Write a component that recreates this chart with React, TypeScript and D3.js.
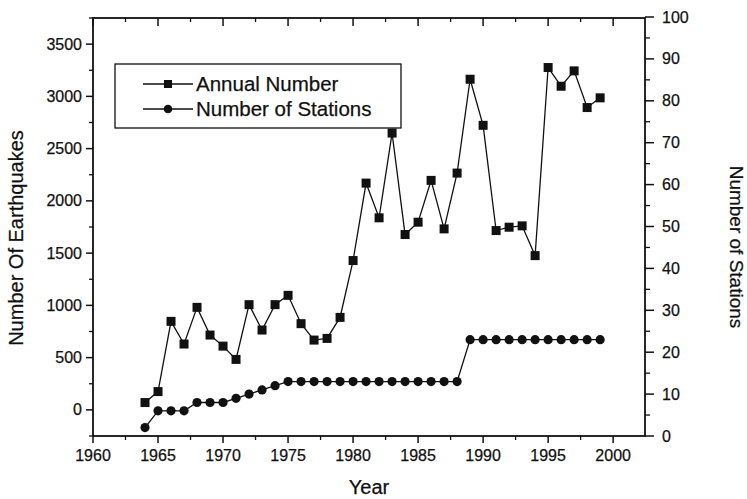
import React from 'react'
import * as d3 from 'd3'

const years = d3.range(1964, 2000)
const annualNumber = [
  70, 175, 847, 630, 981, 716, 610, 483, 1007, 764, 1007, 1096, 825, 668, 684, 885, 1429,
  2170, 1838, 2649, 1678, 1796, 2196, 1732, 2266, 3164, 2723, 1716, 1748, 1761, 1476, 3276,
  3097, 3244, 2893, 2986,
]
const stations = [
  2, 6, 6, 6, 8, 8, 8, 9, 10, 11, 12, 13, 13, 13, 13, 13, 13, 13, 13, 13, 13, 13, 13, 13, 13,
  23, 23, 23, 23, 23, 23, 23, 23, 23, 23, 23,
]
const xTicks = [1960, 1965, 1970, 1975, 1980, 1985, 1990, 1995, 2000]
const leftTicks = [0, 500, 1000, 1500, 2000, 2500, 3000, 3500]
const rightTicks = [0, 10, 20, 30, 40, 50, 60, 70, 80, 90, 100]
const legendItems = ['Annual Number', 'Number of Stations']

const W = 747
const H = 499
const plot = { left: 93, right: 645, top: 18, bottom: 436 }
const font = '"Liberation Sans", Arial, sans-serif'
const ink = '#111'

export default function App() {
  const x = d3.scaleLinear().domain([1960, 2002.45]).range([plot.left, plot.right])
  const yL = d3.scaleLinear().domain([-250, 3750]).range([plot.bottom, plot.top])
  const yR = d3.scaleLinear().domain([0, 100]).range([plot.bottom, plot.top - 1])

  const annualLine = d3
    .line<number>()
    .x((_, i) => x(years[i]))
    .y((d) => yL(d))(annualNumber)
  const stationLine = d3
    .line<number>()
    .x((_, i) => x(years[i]))
    .y((d) => yR(d))(stations)

  const xMinor = d3.range(1960, 2002.5, 2.5).filter((v) => v % 5 !== 0)
  const leftMinor = d3.range(-250, 3751, 250).filter((v) => v % 500 !== 0)
  const rightMinor = d3.range(5, 100, 10)

  // scanned look: text slightly heavier than plain regular weight
  const textStyle = { stroke: ink, strokeWidth: 0.25 }

  return (
    <svg
      width={W}
      height={H}
      style={{ position: 'absolute', left: 0, top: 0, background: '#fff' }}
      fontFamily={font}
    >
      {/* frame */}
      <rect
        x={plot.left}
        y={plot.top}
        width={plot.right - plot.left}
        height={plot.bottom - plot.top}
        fill="none"
        stroke={ink}
        strokeWidth={1.8}
      />

      {/* x axis ticks: bottom outward, top inward */}
      {xTicks.map((t) => (
        <g key={'xt' + t}>
          <line x1={x(t)} x2={x(t)} y1={plot.bottom} y2={plot.bottom + 7} stroke={ink} strokeWidth={1.5} />
          <line x1={x(t)} x2={x(t)} y1={plot.top} y2={plot.top + 8} stroke={ink} strokeWidth={1.5} />
          <text x={x(t)} y={461} fontSize={16} textAnchor="middle" fill={ink} style={textStyle}>
            {t}
          </text>
        </g>
      ))}
      {xMinor.map((t) => (
        <g key={'xm' + t}>
          <line x1={x(t)} x2={x(t)} y1={plot.bottom} y2={plot.bottom + 4} stroke={ink} strokeWidth={1.3} />
          <line x1={x(t)} x2={x(t)} y1={plot.top} y2={plot.top + 4} stroke={ink} strokeWidth={1.3} />
        </g>
      ))}

      {/* left axis */}
      {leftTicks.map((t) => (
        <g key={'lt' + t}>
          <line x1={plot.left - 7} x2={plot.left} y1={yL(t)} y2={yL(t)} stroke={ink} strokeWidth={1.5} />
          <text x={82} y={yL(t) + 5.5} fontSize={16} textAnchor="end" fill={ink} style={textStyle}>
            {t}
          </text>
        </g>
      ))}
      {leftMinor.map((t) => (
        <line key={'lm' + t} x1={plot.left - 4} x2={plot.left} y1={yL(t)} y2={yL(t)} stroke={ink} strokeWidth={1.3} />
      ))}

      {/* right axis */}
      {rightTicks.map((t) => (
        <g key={'rt' + t}>
          <line x1={plot.right} x2={plot.right + 9} y1={yR(t)} y2={yR(t)} stroke={ink} strokeWidth={1.5} />
          <text x={662} y={yR(t) + 5.5} fontSize={16} textAnchor="start" fill={ink} style={textStyle}>
            {t}
          </text>
        </g>
      ))}
      {rightMinor.map((t) => (
        <line key={'rm' + t} x1={plot.right} x2={plot.right + 5} y1={yR(t)} y2={yR(t)} stroke={ink} strokeWidth={1.3} />
      ))}

      {/* axis titles */}
      <text transform="translate(23,238) rotate(-90)" fontSize={20} textAnchor="middle" fill={ink} style={textStyle}>
        Number Of Earthquakes
      </text>
      <text transform="translate(730,247) rotate(90)" fontSize={19} textAnchor="middle" fill={ink} style={textStyle}>
        Number of Stations
      </text>
      <text x={369} y={494} fontSize={20} textAnchor="middle" fill={ink} style={textStyle}>
        Year
      </text>

      {/* series */}
      <path d={annualLine || ''} fill="none" stroke={ink} strokeWidth={1.3} />
      {annualNumber.map((v, i) => (
        <rect key={'sq' + i} x={x(years[i]) - 4.5} y={yL(v) - 4.5} width={9} height={9} fill={ink} />
      ))}
      <path d={stationLine || ''} fill="none" stroke={ink} strokeWidth={1.3} />
      {stations.map((v, i) => (
        <circle key={'ci' + i} cx={x(years[i])} cy={yR(v)} r={4.6} fill={ink} />
      ))}

      {/* legend */}
      <rect x={115} y={64} width={286} height={64} fill="#fff" stroke={ink} strokeWidth={1.3} />
      {legendItems.map((label, i) => {
        const cy = 84 + i * 25
        return (
          <g key={label}>
            <line x1={143} x2={193} y1={cy} y2={cy} stroke={ink} strokeWidth={1.3} />
            {i === 0 ? (
              <rect x={164} y={cy - 4} width={8} height={8} fill={ink} />
            ) : (
              <circle cx={168} cy={cy} r={4.3} fill={ink} />
            )}
            <text x={196} y={cy + 7} fontSize={20.5} fill={ink} style={textStyle}>
              {label}
            </text>
          </g>
        )
      })}
    </svg>
  )
}
